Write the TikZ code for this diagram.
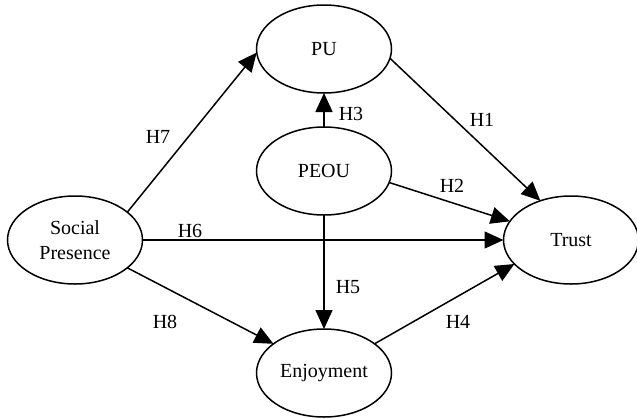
\documentclass[tikz,border=0pt]{standalone}
\usepackage{fontspec}
\setmainfont{Liberation Serif}
\usetikzlibrary{shapes.geometric,arrows.meta}
\begin{document}
\begin{tikzpicture}[x=1pt,y=-1pt,
  construct/.style={draw, line width=1.5pt, ellipse, minimum width=135pt, minimum height=88pt,
    inner sep=0pt, outer sep=0pt, font=\fontsize{20}{25}\selectfont, align=center},
  link/.style={line width=1.5pt, -{Triangle[length=19pt,width=17pt]}},
  hlabel/.style={font=\fontsize{20}{24}\selectfont, inner sep=0pt}]
\useasboundingbox (0,0) rectangle (637,418);
\node[construct] (pu) at (324,49) {PU};
\node[construct] (peou) at (324,171) {PEOU};
\node[construct] (sp) at (75,240) {Social\\Presence};
\node[construct] (trust) at (571,240) {Trust};
\node[construct] (enj) at (324,373) {Enjoyment};

\draw[link] (sp.28) -- (pu.183);
\draw[link] (pu.-8) -- (trust.128);
\draw[link] (peou.90) -- (pu.270);
\draw[link] (peou.-10) -- (trust.163);
\draw[link] (sp.east) -- (trust.west);
\draw[link] (peou.270) -- (enj.90);
\draw[link] (sp.-28) -- (enj.150);
\draw[link] (enj.30) -- (trust.203);

\node[hlabel] (h7) at (158,137) {H7};
\node[hlabel] (h1) at (482,120) {H1};
\node[hlabel] (h3) at (351,114) {H3};
\node[hlabel] (h2) at (452,186) {H2};
\node[hlabel] (h6) at (190,231) {H6};
\node[hlabel] (h5) at (348,287) {H5};
\node[hlabel] (h8) at (165,322) {H8};
\node[hlabel] (h4) at (458,322) {H4};
\end{tikzpicture}
\end{document}
